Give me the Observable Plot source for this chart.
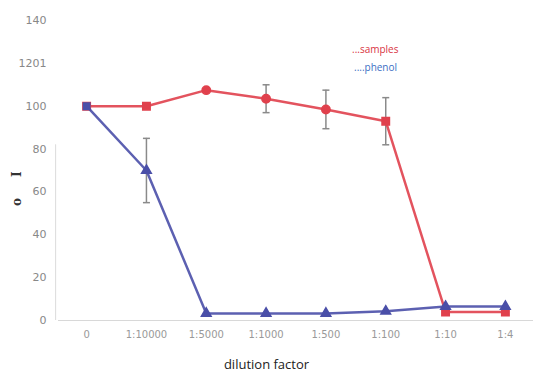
<!DOCTYPE html>
<html>
<head>
<meta charset="utf-8">
<script src="https://cdn.jsdelivr.net/npm/d3@7"></script>
<script src="https://cdn.jsdelivr.net/npm/@observablehq/plot@0.6"></script>
<style>
  html, body { margin: 0; padding: 0; background: #fff; }
  #wrap { position: relative; width: 533px; height: 374px; font-family: "Open Sans", "DejaVu Sans", sans-serif; }
  #legend { position: absolute; left: 352px; top: 40px; font-size: 10px; line-height: 18px; }
  #ylab { position: absolute; left: 10px; top: 206px; transform: rotate(-90deg); transform-origin: left top; font: bold 12px "DejaVu Serif", serif; color: #333; white-space: pre; }
  #xlab { position: absolute; left: 0; width: 533px; top: 355px; text-align: center; font-size: 13px; color: #222; }
</style>
</head>
<body>
<div id="wrap">
  <div id="chart"></div>
  <div id="legend"><div style="color:#d9343f">...samples</div><div style="color:#3d6fc4;padding-left:2px">....phenol</div></div>
  <div id="ylab">o     I</div>
  <div id="xlab">dilution factor</div>
</div>
<script>
const categories = ["0", "1:10000", "1:5000", "1:1000", "1:500", "1:100", "1:10", "1:4"];
const samples = [100, 100, 107.5, 103.5, 98.5, 93, 4, 4];
const samplesErr = [0, 0, 0, 6.5, 9, 11, 0, 0];
const phenol = [100, 70, 3.3, 3.3, 3.3, 4.3, 6.5, 6.5];
const phenolErr = [0, 15, 0, 0, 0, 0, 0, 0];
const yTicks = [0, 20, 40, 60, 80, 100, 120, 140];
const yTickLabels = ["0", "20", "40", "60", "80", "100", "1201", "140"];

const sData = categories.map((c, i) => ({cat: c, v: samples[i], e: samplesErr[i], i}));
const pData = categories.map((c, i) => ({cat: c, v: phenol[i], e: phenolErr[i], i}));
const errs = [...sData, ...pData].filter(d => d.e > 0);

const red = "#e0404c";
const blue = "#4a4fa8";

const capSymbol = {
  draw(context, size) {
    const w = 3.5;
    context.moveTo(-w, 0);
    context.lineTo(w, 0);
  }
};

const plot = Plot.plot({
  width: 533,
  height: 374,
  marginLeft: 58,
  marginRight: 0,
  marginTop: 20,
  marginBottom: 54,
  style: {fontFamily: "'DejaVu Sans', sans-serif", fontSize: "10px", color: "#777"},
  x: {type: "point", domain: categories, padding: 0.47, round: false, label: null},
  y: {domain: [0, 140], label: null},
  marks: [
    Plot.ruleY([0], {stroke: "#d8d8d8", strokeWidth: 1}),
    Plot.ruleX([categories[0]], {y1: 0, y2: 82, dx: -31, stroke: "#dcdcdc"}),
    Plot.axisY({ticks: yTicks, tickFormat: (d) => yTickLabels[yTicks.indexOf(d)], tickSize: 0, tickPadding: 12, fill: "#888", fontSize: 11}),
    Plot.axisX({tickSize: 0, tickPadding: 10, fill: "#999", fontSize: 10}),
    Plot.ruleX(errs, {x: "cat", y1: d => d.v - d.e, y2: d => d.v + d.e, stroke: "#8a8a8a", strokeWidth: 1.5}),
    Plot.dot(errs, {x: "cat", y: d => d.v - d.e, symbol: capSymbol, fill: "none", stroke: "#8a8a8a", strokeWidth: 1.5}),
    Plot.dot(errs, {x: "cat", y: d => d.v + d.e, symbol: capSymbol, fill: "none", stroke: "#8a8a8a", strokeWidth: 1.5}),
    Plot.line(sData, {x: "cat", y: "v", stroke: red, strokeWidth: 2.5, strokeOpacity: 0.9}),
    Plot.dot(sData, {x: "cat", y: "v", symbol: d => (d.i >= 2 && d.i <= 4 ? "circle" : "square"), r: 4.2, fill: red, stroke: red}),
    Plot.line(pData, {x: "cat", y: "v", stroke: blue, strokeWidth: 2.5, strokeOpacity: 0.9}),
    Plot.dot(pData, {x: "cat", y: "v", symbol: d => (d.i === 0 ? "square" : "triangle"), r: 3.6, fill: blue, stroke: blue})
  ]
});
document.getElementById("chart").appendChild(plot);
</script>
</body>
</html>
